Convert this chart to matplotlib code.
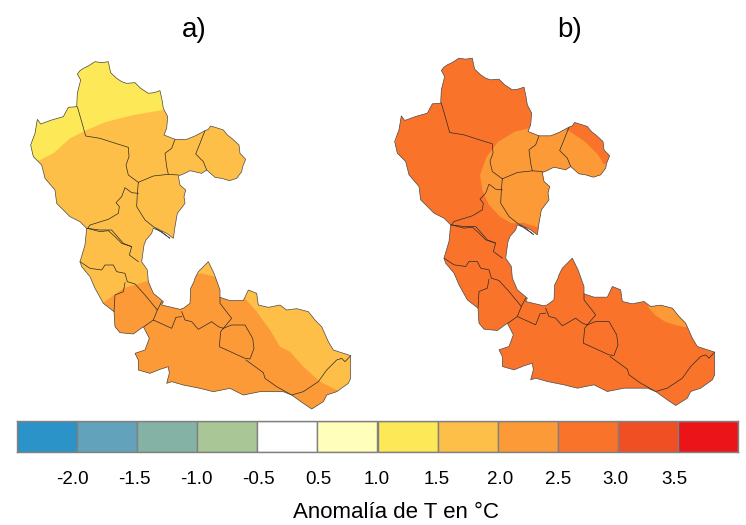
import numpy as np
import matplotlib
matplotlib.use('Agg')
import matplotlib.pyplot as plt
from matplotlib.patches import Polygon

plt.rcParams['font.family'] = ['Liberation Sans', 'DejaVu Sans']

# map, in pixels of panel a
north_part = [(172,72),(180,62),(190,55),(205,48),(225,35),(245,38),(265,35),(268,50),(272,68),(290,85),(305,95),(320,100),(345,98),
	(362,115),(385,130),(402,128),(420,122),(426,150),(430,175),(443,200),(440,235),(432,255),(450,262),(465,268),(500,268),(525,258),
	(555,242),(565,238),(572,228),(595,235),(610,240),(622,255),(635,265),(657,285),(660,310),(677,328),(668,350),(665,365),
	(650,385),(628,392),(605,385),(585,382),(560,360),(545,370),(510,362),(490,372),(475,378),(480,405),(497,420),(492,440),(495,460),
	(472,490),(465,530),(460,565),(440,550),(420,540),(400,530)]
south_part = [(300,85),(275,65),(250,55),(245,70),(228,90),(222,105),(215,155),(232,180),(235,215),(250,250),(280,275),(275,285),
	(330,298),(340,295),(360,280),(362,235),(372,215),(375,205),(385,185),(400,170),(415,155),(432,190),(450,240),(450,262),
	(480,272),(520,272),(535,240),(560,250),(565,285),(595,292),(630,285),(650,300),(680,296),(715,305),
	(735,330),(755,350),(775,395),(790,420),(842,437),(842,505),(835,520),(800,545),(770,555),(760,575),
	(725,597),(700,580),(665,555),(640,545),(600,545),(570,545),(520,555),(480,535),(430,545),(390,535),
	(340,525),(305,515),(290,520),(298,490),(295,470),(270,478),(240,490),(205,480),(205,450),(195,430),
	(225,420),(238,385),(220,350),(190,372),(150,368),(135,350),(132,305),(100,280),(75,235),(60,200),
	(35,170),(30,155),(45,105),(50,55),(30,35),(0,20)]
west_part = [(150,500),(110,460),(105,420),(75,385),(65,345),(40,320),(32,285),(45,250),(52,208),(62,222),(95,210),(130,200),
	(145,172),(170,170),(172,130),(182,90)]

# department borders
borders_n = [
	[(172,170),(185,215),(197,258),(240,265),(280,278),(325,292),(327,320),(318,345),(325,375),(355,397)],
	[(355,397),(400,378),(445,373),(475,375)],
	[(355,397),(352,430),(350,470),(375,510),(400,530)],
	[(465,268),(455,295),(435,310),(440,350),(445,373)],
	[(555,242),(540,280),(527,312),(550,335),(560,360)],
	[(355,430),(335,428),(315,413),(305,440),(288,458),(298,470),(295,490),(265,508),(210,525),(203,535)],
	[(203,535),(240,545),(265,542),(285,560),(305,580),(335,590)],
]
borders_s = [
	[(50,55),(90,60),(125,60),(160,100),(185,110),(178,135),(205,155)],
	[(30,155),(60,175),(95,180),(105,165),(130,165),(140,185),(165,190),(172,215),(195,222),(225,255),(262,300),(275,275)],
	[(165,218),(160,245),(135,255),(132,305)],
	[(262,300),(250,330),(305,355),(318,322),(335,320)],
	[(222,350),(250,330)],
	[(335,305),(345,330),(365,335),(385,358),(425,335),(445,350),(460,355),(485,325),(450,280),(450,262)],
	[(460,355),(485,345),(525,345),(548,385),(552,415),(540,447),(525,445),(448,410),(452,365),(460,355)],
	[(528,450),(580,488),(585,505),(620,530),(665,555),(700,545),(745,515),(770,480),(800,450),(815,445),(825,455),(842,437)],
]

# anomaly classes in panel a
a_yellow = [(60,330),(100,310),(150,265),(200,240),(260,215),(340,195),(430,180),(470,175),(470,0),(0,0),(0,345)]
a_orange = [(0,310),(100,278),(160,235),(235,212),(395,190),(435,200),(525,265),(560,305),(600,360),(630,410),(660,425),
	(700,470),(750,515),(800,540),(860,548),(860,640),(0,640)]
# anomaly classes in panel b
b_blob = [(430,235),(390,245),(340,275),(305,320),(285,375),(292,420),(312,465),(345,500),(380,520),(415,518),(450,530),
	(520,530),(700,500),(700,350),(655,342),(640,315),(600,275),(555,245),(530,232)]
b_sliver = [(50,195),(42,240),(30,285),(0,285),(0,195)]
b_patch = [(640,292),(660,315),(690,335),(720,345),(750,352),(775,340),(775,270),(640,270)]

# colour scale
class_colors = ['#2B93C8','#62A2BB','#84B3A5','#A9C796','#FFFFFF','#FFFEBB','#FDE958','#FDBF47','#FD9A38','#F9732B','#F04E23','#EA1419']
tick_labels = ['-2.0','-1.5','-1.0','-0.5','0.5','1.0','1.5','2.0','2.5','3.0','3.5']
tick_px = [72.5,134.5,196.5,258,318.5,377,437,500.5,558,615.5,674]

W, H = 746, 525
SHIFT_X, SHIFT_Y = 364, -3.5


def crop(pts, x0, y0):
	# zoomed crop coords to picture pixels
	return np.array(pts, dtype=float)/3 + [x0, y0]


def draw_map(ax, base, zones, title, title_x, title_y):
	ol = np.vstack([crop(north_part, 20, 50), crop(south_part, 70, 210), crop(west_part, 20, 50)])
	shape = Polygon(ol, closed=True, fc=base, ec='none', zorder=1)
	ax.add_patch(shape)
	for pts, col in zones:
		p = Polygon(pts, closed=True, fc=col, ec='none', zorder=2)
		ax.add_patch(p)
		p.set_clip_path(shape)
	for b in borders_n:
		xy = crop(b, 20, 50)
		ax.plot(xy[:,0], xy[:,1], color='#2a2a2a', lw=0.5, zorder=3)
	for b in borders_s:
		xy = crop(b, 70, 210)
		ax.plot(xy[:,0], xy[:,1], color='#2a2a2a', lw=0.5, zorder=3)
	ax.add_patch(Polygon(ol, closed=True, fc='none', ec='#4a4a4a', lw=0.5, zorder=4))
	ax.set_xlim(0, W)
	ax.set_ylim(H, 0)
	ax.axis('off')
	ax.patch.set_alpha(0)
	ax.text(title_x, title_y, title, fontsize=20, ha='center', va='center', color='black')


fig = plt.figure(figsize=(7.46, 5.25), dpi=100)

axA = fig.add_axes([0, 0, 1, 1])
draw_map(axA, class_colors[7],
	[(crop(a_yellow, 20, 50), class_colors[6]), (crop(a_orange, 70, 210), class_colors[8])],
	'a)', 194, 30)

axB = fig.add_axes([SHIFT_X/W, -SHIFT_Y/H, 1, 1])
draw_map(axB, class_colors[9],
	[(crop(b_blob, 385-SHIFT_X, 50-SHIFT_Y), class_colors[8]),
	 (crop(b_sliver, 385-SHIFT_X, 50-SHIFT_Y), class_colors[8]),
	 (crop(b_patch, 435-SHIFT_X, 210-SHIFT_Y), class_colors[8])],
	'b)', 570-SHIFT_X, 30-SHIFT_Y)

# legend bar
axL = fig.add_axes([17/W, 1-452/H, 721/W, 31/H])
edges = np.arange(len(class_colors))
axL.bar(edges, np.ones(len(class_colors)), width=1, align='edge', color=class_colors, edgecolor='#808080', linewidth=1)
axL.set_xlim(0, len(class_colors))
axL.set_ylim(0, 1)
axL.set_yticks([])
axL.set_xticks([(x-17)/721*len(class_colors) for x in tick_px])
axL.set_xticklabels(tick_labels, fontsize=13.5)
axL.tick_params(axis='x', length=0, pad=14)
for s in axL.spines.values():
	s.set_color('#808080')
	s.set_linewidth(1)
axL.set_xlabel('Anomalía de T en °C', fontsize=16, labelpad=10, x=(396-17)/721)

fig.savefig('out.png', dpi=100)
